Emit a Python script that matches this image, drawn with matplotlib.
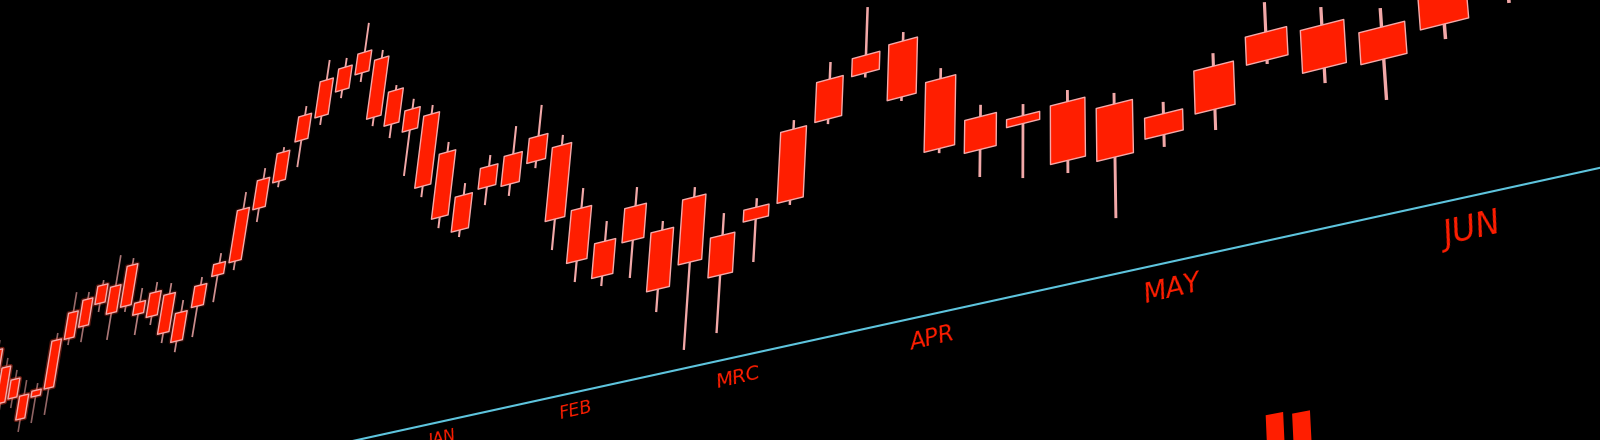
import numpy as np
import matplotlib
matplotlib.use('Agg')
import matplotlib.pyplot as plt
from matplotlib.transforms import Transform, offset_copy
from matplotlib.collections import PolyCollection, LineCollection

# weekly candles, prices
opens = [124.6, 116.1, 109.8, 101.8, 100.2, 102.4, 122.1, 125.9, 134.1, 139.9,
         130.1, 130.3, 122.9, 130.6, 121.5, 122.4, 133.6, 137.6, 157.6, 166.8,
         181.6, 189.4, 197.9, 202.7, 206.4, 191.3, 181.5, 177.1, 159.6, 140.2,
         141.0, 139.7, 146.2, 149.8, 122.6, 107.1, 104.8, 105.9, 90.8, 98.2,
         101.3, 105.3, 132.5, 146.2, 154.4, 136.6, 118.8, 112.3, 116.2, 111.1,
         103.3, 100.4, 113.1, 120.4, 114.5, 110.2, 116.2]
closes = [113.9, 100.8, 101.8, 91.7, 102.7, 122.6, 133.1, 137.2, 141.7, 128.6,
          147.2, 125.3, 132.9, 114.4, 109.5, 131.1, 138.5, 159.0, 169.5, 178.7,
          191.8, 204.1, 207.2, 211.1, 182.6, 177.6, 173.0, 148.3, 133.7, 126.3,
          149.2, 151.5, 156.0, 120.9, 102.0, 93.6, 118.0, 83.2, 115.7, 83.0,
          105.8, 132.1, 147.5, 152.9, 133.6, 110.8, 106.7, 115.2, 94.9, 92.0,
          95.8, 115.7, 123.0, 105.4, 103.4, 122.6, 128.2]
highs = [128.8, 120.0, 113.7, 108.2, 105.7, 125.6, 141.5, 140.2, 143.8, 152.8,
         150.1, 136.1, 137.1, 135.1, 126.5, 134.4, 142.6, 166.0, 174.0, 180.7,
         195.5, 212.2, 210.9, 222.9, 209.7, 193.3, 185.5, 180.7, 163.6, 144.9,
         153.6, 162.5, 168.2, 153.8, 130.4, 114.9, 125.3, 109.4, 119.5, 106.6,
         109.2, 135.5, 153.9, 170.8, 157.7, 140.5, 123.1, 119.4, 120.4, 115.1,
         107.5, 120.3, 133.5, 126.7, 121.1, 127.1, 133.3]
lows = [109.6, 97.8, 97.5, 86.2, 88.8, 91.0, 119.2, 119.1, 130.4, 117.3,
        127.6, 116.5, 119.2, 110.2, 104.9, 109.6, 122.4, 133.9, 151.9, 164.3,
        170.6, 185.8, 194.6, 199.0, 179.0, 172.0, 154.6, 143.9, 129.3, 123.5,
        133.8, 135.0, 143.4, 108.8, 93.8, 89.7, 90.2, 74.4, 57.2, 60.9,
        85.0, 103.5, 130.6, 144.5, 132.1, 109.1, 96.6, 92.4, 90.3, 70.0,
        91.4, 93.0, 111.7, 100.1, 89.2, 105.0, 111.8]

months = ['JAN', 'FEB', 'MRC', 'APR', 'MAY', 'JUN']
month_pos = [29.2, 34.4, 39.7, 44.9, 50.1, 55.2]   # in weeks

# volume pane, only two bars peek in at the bottom
vol_pos = [51.85, 52.3]
volumes = [2.90, 2.78]

BASE = 50.0       # price of the cyan baseline
VOL_BASE = -40.0


class Perspective(Transform):
    """(week, price) -> pixel on a screen seen at an angle (y grows down)."""
    input_dims = 2
    output_dims = 2
    is_separable = False
    has_inverse = False

    def transform_non_affine(self, values):
        values = np.asarray(values, dtype=float).reshape(-1, 2)
        u, v = values[:, 0], values[:, 1]
        foot = -1070 + 1e5 / (96.2 - 1.03 * u)
        base_y = 435 - 0.219 * (foot - 380)
        h = (v - BASE) * 2.5 * (1 + 0.00015 * (foot - 380))
        lean = np.minimum(0.13 - 0.000192 * (foot - 360), 0.165)
        return np.column_stack([foot + lean * h, base_y - h])


def spacing(u):
    # pixels between two weeks at week u
    return 1.03e5 / (96.2 - 1.03 * np.asarray(u, dtype=float)) ** 2


fig = plt.figure(figsize=(16, 4.4), dpi=100, facecolor='black')
ax = fig.add_axes([0, 0, 1, 1])
ax.set_facecolor('black')
ax.set_xlim(0, 1600)
ax.set_ylim(440, 0)
ax.axis('off')
trans = Perspective() + ax.transData

idx = np.arange(len(opens))
sp = spacing(idx)
w = 0.38
blur = np.clip(1 - idx / 22, 0, 1)   # left end is out of focus

# wicks
segs = [[(i, lo), (i, hi)] for i, lo, hi in zip(idx, lows, highs)]
wick_cols = [(0.95, 0.66, 0.66, 1 - 0.5 * b) for b in blur]
ax.add_collection(LineCollection(segs, transform=trans, colors=wick_cols,
                                 linewidths=(1.2 + 0.035 * sp) * 0.72, zorder=2))

# bodies
polys = [[(i - w, o), (i + w, o), (i + w, c), (i - w, c)]
         for i, o, c in zip(idx, opens, closes)]
glow = [(1.0, 0.25, 0.15, 0.45 * b) for b in blur]
ax.add_collection(PolyCollection(polys, transform=trans, facecolors='none',
                                 edgecolors=glow, linewidths=3.0, zorder=2.5))
ax.add_collection(PolyCollection(polys, transform=trans, facecolors='#ff1e00',
                                 edgecolors='#f5a9a9', linewidths=1.0, zorder=3))

# volume bars
vpolys = [[(p - 0.15, VOL_BASE), (p + 0.15, VOL_BASE),
           (p + 0.15, VOL_BASE + 10 * vol), (p - 0.15, VOL_BASE + 10 * vol)]
          for p, vol in zip(vol_pos, volumes)]
ax.add_collection(PolyCollection(vpolys, transform=trans, facecolors='#ff1e00',
                                 edgecolors='none', zorder=3))

# baseline
uu = np.linspace(24, 62, 300)
ax.plot(uu, np.full_like(uu, BASE), transform=trans, color='#5ec4dd',
        lw=1.5, zorder=1)

# month labels
for name, u in zip(months, month_pos):
    fs = 5.0 + 0.28 * spacing(u)
    tr = offset_copy(trans, fig=fig, x=0, y=-1.05 * fs, units='points')
    ax.text(u, BASE, name, transform=tr, fontsize=fs, color='#ff1e00',
            style='italic', rotation=13, rotation_mode='anchor',
            ha='center', va='center', family='DejaVu Sans')

fig.savefig('out.png', dpi=100, facecolor='black')
